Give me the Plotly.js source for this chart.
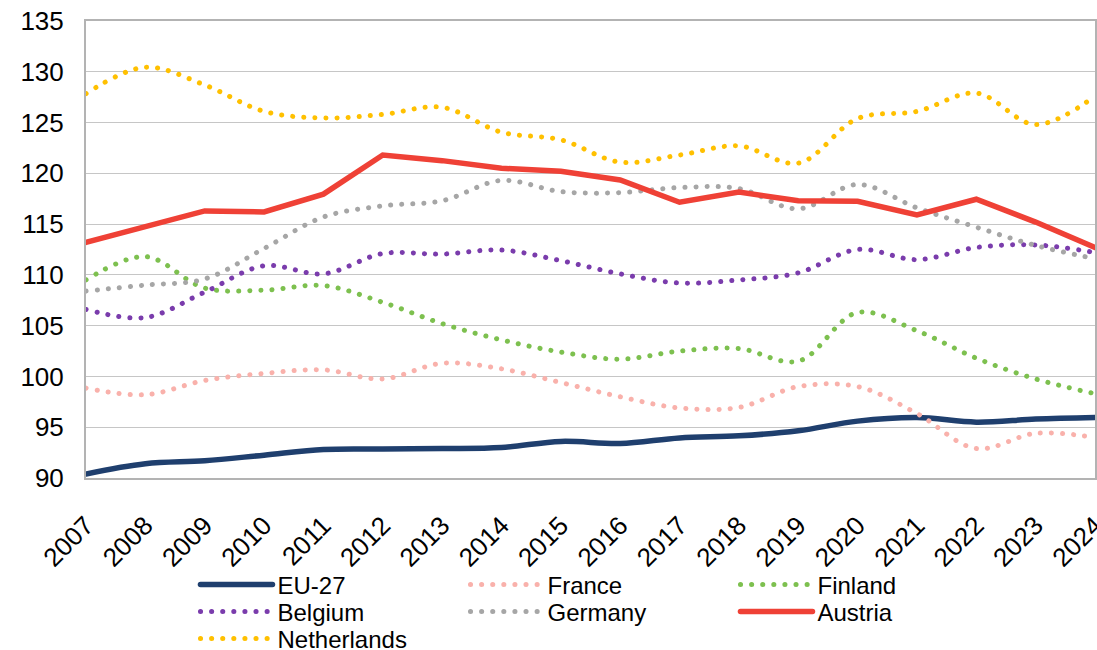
<!DOCTYPE html>
<html>
<head>
<meta charset="utf-8">
<script src="https://cdn.plot.ly/plotly-3.0.1.min.js"></script>
<style>
  html, body { margin: 0; padding: 0; background: #fff; }
  #chart { width: 1097px; height: 650px; }
  path.js-line { stroke-linecap: round !important; }
</style>
</head>
<body>
<div id="chart"></div>
<script>
const years = [2007,2008,2009,2010,2011,2012,2013,2014,2015,2016,2017,2018,2019,2020,2021,2022,2023,2024];
const eu27 =        [90.4, 91.4, 91.7, 92.25, 92.8, 92.85, 92.9, 93.0, 93.6, 93.4, 93.95, 94.15, 94.65, 95.6, 95.95, 95.5, 95.8, 95.95];
const france =      [98.85, 98.2, 99.6, 100.3, 100.65, 99.75, 101.3, 100.75, 99.4, 98.0, 96.9, 96.95, 99.0, 99.0, 96.35, 92.9, 94.4, 94.0];
const finland =     [109.5, 111.8, 108.7, 108.5, 108.95, 107.3, 105.2, 103.6, 102.4, 101.7, 102.5, 102.75, 101.5, 106.3, 104.5, 101.8, 99.75, 98.3];
const belgium =     [106.6, 105.8, 108.3, 110.9, 110.1, 112.1, 112.05, 112.45, 111.4, 110.1, 109.2, 109.5, 110.2, 112.5, 111.5, 112.7, 112.95, 112.2];
const germany =     [108.4, 109.0, 109.6, 112.6, 115.7, 116.8, 117.3, 119.3, 118.2, 118.1, 118.6, 118.5, 116.5, 118.9, 116.6, 114.7, 112.9, 111.6];
const austria =     [113.2, 114.7, 116.3, 116.2, 117.95, 121.8, 121.25, 120.5, 120.2, 119.35, 117.15, 118.15, 117.3, 117.25, 115.9, 117.45, 115.2, 112.7];
const netherlands = [127.85, 130.45, 128.7, 126.1, 125.45, 125.8, 126.5, 124.05, 123.3, 121.1, 121.8, 122.7, 121.0, 125.4, 126.1, 127.9, 124.8, 127.6];

const DOT = "0.1px,11px";
function tr(name, y, color, dotted, legend, shape) {
  return {
    x: years, y: y, name: name, type: 'scatter', mode: 'lines',
    legend: legend,
    line: {
      color: color,
      width: dotted ? 5 : 5.5,
      dash: dotted ? DOT : 'solid',
      shape: shape || 'spline',
      smoothing: 1
    },
    hoverinfo: 'x+y+name'
  };
}

const traces = [
  tr('EU-27', eu27, '#1f3f6e', false, 'legend', 'spline'),
  tr('France', france, '#f9b1ab', true, 'legend'),
  tr('Finland', finland, '#7dc04f', true, 'legend'),
  tr('Belgium', belgium, '#7a3cac', true, 'legend2'),
  tr('Germany', germany, '#a6a6a6', true, 'legend2'),
  tr('Austria', austria, '#ef4136', false, 'legend2', 'linear'),
  tr('Netherlands', netherlands, '#ffc000', true, 'legend3')
];

const FONT = '"Liberation Sans", Arial, sans-serif';
function leg(y) {
  return {
    orientation: 'h', x: 0.1085, xanchor: 'left', y: y, yanchor: 'middle',
    entrywidth: 183, entrywidthmode: 'pixels', itemwidth: 72,
    font: { family: FONT, size: 24, color: '#000' },
    bgcolor: 'rgba(0,0,0,0)', borderwidth: 0, traceorder: 'normal',
    itemclick: false, itemdoubleclick: false
  };
}

const layout = {
  width: 1097, height: 650,
  margin: { l: 86, r: 2, t: 21, b: 172, autoexpand: false },
  paper_bgcolor: '#fff', plot_bgcolor: '#fff',
  font: { family: FONT, size: 26, color: '#000' },
  showlegend: true,
  xaxis: {
    type: 'linear', range: [2007, 2024], tickmode: 'array', tickvals: years,
    ticktext: years.map(String), tickangle: -45, automargin: false,
    showgrid: false, zeroline: false,
    showline: true, mirror: true, linecolor: '#b3b3b3', linewidth: 2,
    ticks: '', ticklabelstandoff: 20, ticklabeloverflow: 'allow',
    tickfont: { family: FONT, size: 26, color: '#000' }
  },
  yaxis: {
    range: [90, 135], dtick: 5, tick0: 90, automargin: false,
    showgrid: true, gridcolor: '#c6c6c6', gridwidth: 1.2, zeroline: false,
    showline: true, mirror: true, linecolor: '#b3b3b3', linewidth: 2,
    ticks: '', ticklabelstandoff: 15,
    tickfont: { family: FONT, size: 26, color: '#000' }
  },
  legend: leg(-0.2339),
  legend2: leg(-0.2929),
  legend3: leg(-0.3519)
};

Plotly.newPlot('chart', traces, layout, { displayModeBar: false });
</script>
</body>
</html>
